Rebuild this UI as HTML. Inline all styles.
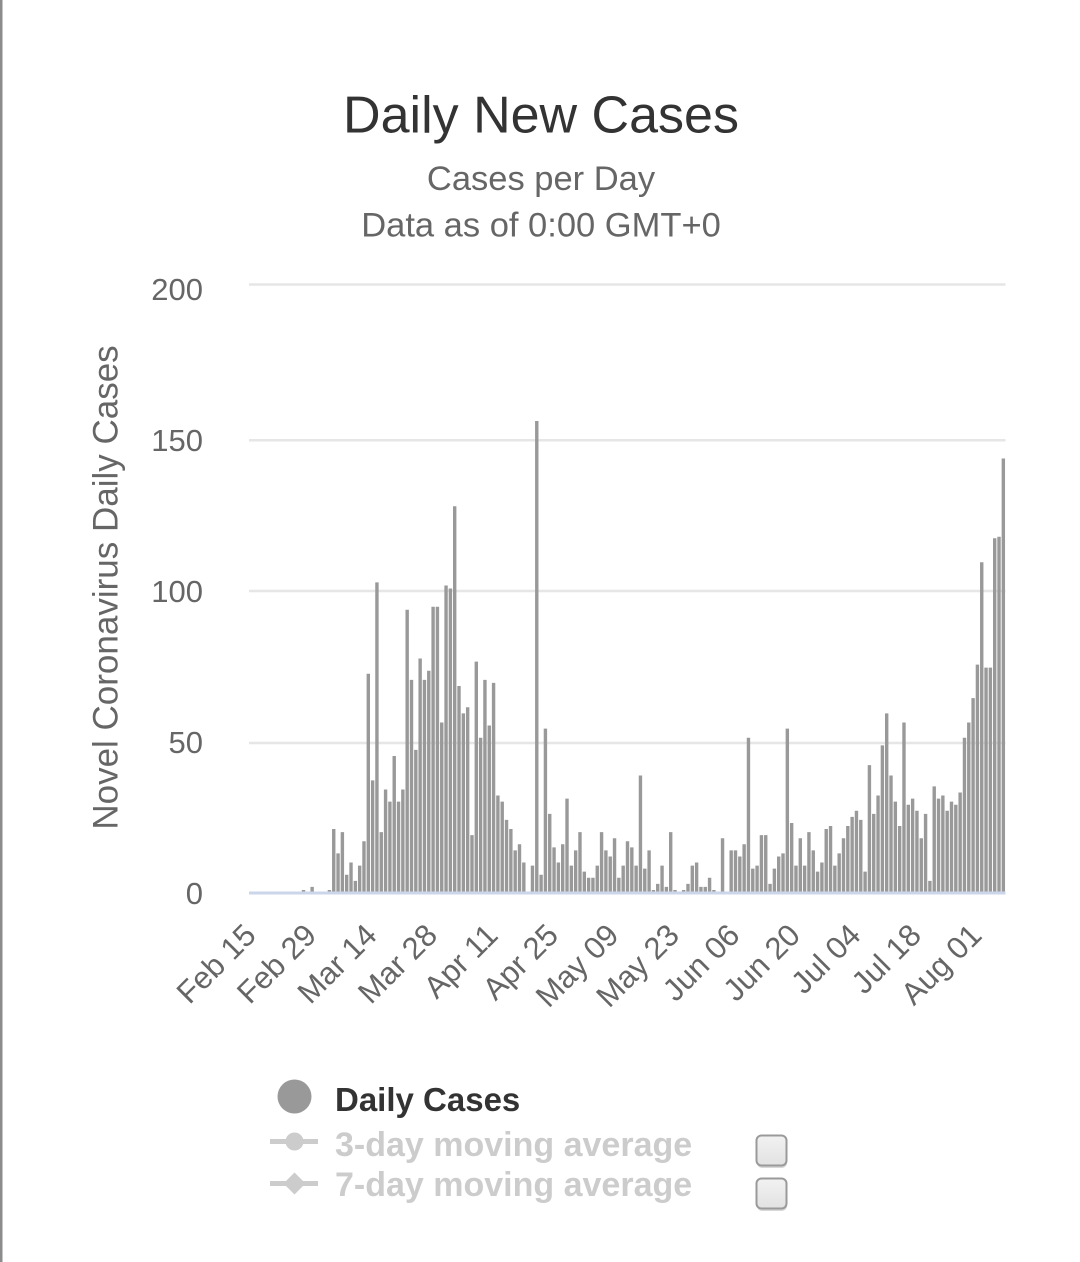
<!DOCTYPE html>
<html>
<head>
<meta charset="utf-8">
<style>
  html, body { margin:0; padding:0; background:#ffffff; }
  svg { display:block; }
  text { font-family: "Liberation Sans", Arial, sans-serif; }
</style>
</head>
<body>
<svg width="1080" height="1262" viewBox="0 0 1080 1262" xmlns="http://www.w3.org/2000/svg">
  <rect x="0" y="0" width="1080" height="1262" fill="#ffffff"/>
  <rect x="0" y="0" width="2.5" height="1262" fill="#8c8c8c"/>

  <text x="541" y="132.7" text-anchor="middle" font-size="52" fill="#333333">Daily New Cases</text>
  <text x="541" y="190" text-anchor="middle" font-size="34.5" fill="#666666">Cases per Day</text>
  <text x="541" y="236.7" text-anchor="middle" font-size="34.5" fill="#666666">Data as of 0:00 GMT+0</text>

  <g stroke="#e6e6e6" stroke-width="2.5">
    <line x1="249" y1="284.5" x2="1005.5" y2="284.5"/>
    <line x1="249" y1="440.2" x2="1005.5" y2="440.2"/>
    <line x1="249" y1="591" x2="1005.5" y2="591"/>
    <line x1="249" y1="743" x2="1005.5" y2="743"/>
  </g>

  <g font-size="31" fill="#666666" text-anchor="end">
    <text x="203" y="300">200</text>
    <text x="203" y="451">150</text>
    <text x="203" y="602">100</text>
    <text x="203" y="753">50</text>
    <text x="203" y="904">0</text>
  </g>

  <text transform="translate(117.5,587.5) rotate(-90)" text-anchor="middle" font-size="35" fill="#666666">Novel Coronavirus Daily Cases</text>

  <g transform="translate(-0.15,0)">
  <path fill="#999999" d="M301.95 889.95h3.4V893h-3.4z M310.59 886.91h3.4V893h-3.4z M327.87 889.95h3.4V893h-3.4z M332.19 829.05h3.4V893h-3.4z M336.51 853.41h3.4V893h-3.4z M340.83 832.1h3.4V893h-3.4z M345.15 874.73h3.4V893h-3.4z M349.47 862.55h3.4V893h-3.4z M353.79 880.82h3.4V893h-3.4z M358.11 865.59h3.4V893h-3.4z M362.43 841.23h3.4V893h-3.4z M366.75 673.76h3.4V893h-3.4z M371.07 780.33h3.4V893h-3.4z M375.39 582.41h3.4V893h-3.4z M379.71 832.1h3.4V893h-3.4z M384.03 789.47h3.4V893h-3.4z M388.35 801.65h3.4V893h-3.4z M392.67 755.97h3.4V893h-3.4z M396.99 801.65h3.4V893h-3.4z M401.31 789.47h3.4V893h-3.4z M405.63 609.81h3.4V893h-3.4z M409.95 679.85h3.4V893h-3.4z M414.27 749.88h3.4V893h-3.4z M418.59 658.53h3.4V893h-3.4z M422.91 679.85h3.4V893h-3.4z M427.23 670.71h3.4V893h-3.4z M431.55 606.77h3.4V893h-3.4z M435.87 606.77h3.4V893h-3.4z M440.19 722.48h3.4V893h-3.4z M444.51 585.45h3.4V893h-3.4z M448.83 588.5h3.4V893h-3.4z M453.15 506.28h3.4V893h-3.4z M457.47 685.94h3.4V893h-3.4z M461.79 713.34h3.4V893h-3.4z M466.11 707.25h3.4V893h-3.4z M470.43 835.14h3.4V893h-3.4z M474.75 661.58h3.4V893h-3.4z M479.07 737.7h3.4V893h-3.4z M483.39 679.85h3.4V893h-3.4z M487.71 725.52h3.4V893h-3.4z M492.03 682.89h3.4V893h-3.4z M496.35 795.56h3.4V893h-3.4z M500.67 801.65h3.4V893h-3.4z M504.99 819.92h3.4V893h-3.4z M509.31 829.05h3.4V893h-3.4z M513.63 850.37h3.4V893h-3.4z M517.95 844.28h3.4V893h-3.4z M522.27 862.55h3.4V893h-3.4z M530.91 865.59h3.4V893h-3.4z M535.23 421.02h3.4V893h-3.4z M539.55 874.73h3.4V893h-3.4z M543.87 728.57h3.4V893h-3.4z M548.19 813.83h3.4V893h-3.4z M552.51 847.32h3.4V893h-3.4z M556.83 862.55h3.4V893h-3.4z M561.15 844.28h3.4V893h-3.4z M565.47 798.6h3.4V893h-3.4z M569.79 865.59h3.4V893h-3.4z M574.11 850.37h3.4V893h-3.4z M578.43 832.1h3.4V893h-3.4z M582.75 871.68h3.4V893h-3.4z M587.07 877.77h3.4V893h-3.4z M591.39 877.77h3.4V893h-3.4z M595.71 865.59h3.4V893h-3.4z M600.03 832.1h3.4V893h-3.4z M604.35 850.37h3.4V893h-3.4z M608.67 856.46h3.4V893h-3.4z M612.99 838.19h3.4V893h-3.4z M617.31 877.77h3.4V893h-3.4z M621.63 865.59h3.4V893h-3.4z M625.95 841.23h3.4V893h-3.4z M630.27 847.32h3.4V893h-3.4z M634.59 865.59h3.4V893h-3.4z M638.91 775.46h3.4V893h-3.4z M643.23 868.64h3.4V893h-3.4z M647.55 850.37h3.4V893h-3.4z M651.87 889.95h3.4V893h-3.4z M656.19 883.86h3.4V893h-3.4z M660.51 865.59h3.4V893h-3.4z M664.83 886.91h3.4V893h-3.4z M669.15 832.1h3.4V893h-3.4z M673.47 889.95h3.4V893h-3.4z M682.11 889.95h3.4V893h-3.4z M686.43 883.86h3.4V893h-3.4z M690.75 865.59h3.4V893h-3.4z M695.07 862.55h3.4V893h-3.4z M699.39 886.91h3.4V893h-3.4z M703.71 886.91h3.4V893h-3.4z M708.03 877.77h3.4V893h-3.4z M712.35 889.95h3.4V893h-3.4z M720.99 838.19h3.4V893h-3.4z M729.63 850.37h3.4V893h-3.4z M733.95 850.37h3.4V893h-3.4z M738.27 856.46h3.4V893h-3.4z M742.59 844.28h3.4V893h-3.4z M746.91 737.7h3.4V893h-3.4z M751.23 868.64h3.4V893h-3.4z M755.55 865.59h3.4V893h-3.4z M759.87 835.14h3.4V893h-3.4z M764.19 835.14h3.4V893h-3.4z M768.51 883.86h3.4V893h-3.4z M772.83 868.64h3.4V893h-3.4z M777.15 856.46h3.4V893h-3.4z M781.47 853.41h3.4V893h-3.4z M785.79 728.57h3.4V893h-3.4z M790.11 822.96h3.4V893h-3.4z M794.43 865.59h3.4V893h-3.4z M798.75 838.19h3.4V893h-3.4z M803.07 865.59h3.4V893h-3.4z M807.39 832.1h3.4V893h-3.4z M811.71 850.37h3.4V893h-3.4z M816.03 871.68h3.4V893h-3.4z M820.35 862.55h3.4V893h-3.4z M824.67 829.05h3.4V893h-3.4z M828.99 826.01h3.4V893h-3.4z M833.31 865.59h3.4V893h-3.4z M837.63 853.41h3.4V893h-3.4z M841.95 838.19h3.4V893h-3.4z M846.27 826.01h3.4V893h-3.4z M850.59 816.87h3.4V893h-3.4z M854.91 810.78h3.4V893h-3.4z M859.23 819.92h3.4V893h-3.4z M863.55 871.68h3.4V893h-3.4z M867.87 765.11h3.4V893h-3.4z M872.19 813.83h3.4V893h-3.4z M876.51 795.56h3.4V893h-3.4z M880.83 745.32h3.4V893h-3.4z M885.15 713.34h3.4V893h-3.4z M889.47 775.46h3.4V893h-3.4z M893.79 801.65h3.4V893h-3.4z M898.11 826.01h3.4V893h-3.4z M902.43 722.48h3.4V893h-3.4z M906.75 804.69h3.4V893h-3.4z M911.07 798.6h3.4V893h-3.4z M915.39 810.78h3.4V893h-3.4z M919.71 838.19h3.4V893h-3.4z M924.03 813.83h3.4V893h-3.4z M928.35 880.82h3.4V893h-3.4z M932.67 786.42h3.4V893h-3.4z M936.99 798.6h3.4V893h-3.4z M941.31 795.56h3.4V893h-3.4z M945.63 810.78h3.4V893h-3.4z M949.95 801.65h3.4V893h-3.4z M954.27 804.69h3.4V893h-3.4z M958.59 792.51h3.4V893h-3.4z M962.91 737.7h3.4V893h-3.4z M967.23 722.48h3.4V893h-3.4z M971.55 698.12h3.4V893h-3.4z M975.87 664.62h3.4V893h-3.4z M980.19 562.31h3.4V893h-3.4z M984.51 667.67h3.4V893h-3.4z M988.83 667.67h3.4V893h-3.4z M993.15 538.26h3.4V893h-3.4z M997.47 536.73h3.4V893h-3.4z M1001.79 458.48h3.4V893h-3.4z"/>
  </g>

  <line x1="249" y1="893" x2="1005.5" y2="893" stroke="#ccd6eb" stroke-width="3"/>

  <g font-size="31" fill="#666666" text-anchor="end">
    <text transform="translate(257.7,937) rotate(-45)">Feb 15</text>
    <text transform="translate(318.1,937) rotate(-45)">Feb 29</text>
    <text transform="translate(378.6,937) rotate(-45)">Mar 14</text>
    <text transform="translate(439.1,937) rotate(-45)">Mar 28</text>
    <text transform="translate(499.6,937) rotate(-45)">Apr 11</text>
    <text transform="translate(560.1,937) rotate(-45)">Apr 25</text>
    <text transform="translate(620.5,937) rotate(-45)">May 09</text>
    <text transform="translate(681.0,937) rotate(-45)">May 23</text>
    <text transform="translate(741.5,937) rotate(-45)">Jun 06</text>
    <text transform="translate(802.0,937) rotate(-45)">Jun 20</text>
    <text transform="translate(862.5,937) rotate(-45)">Jul 04</text>
    <text transform="translate(922.9,937) rotate(-45)">Jul 18</text>
    <text transform="translate(983.4,937) rotate(-45)">Aug 01</text>
  </g>

  <circle cx="294.5" cy="1096.5" r="17" fill="#999999"/>
  <text x="335" y="1111" font-size="33" font-weight="bold" fill="#333333">Daily Cases</text>

  <line x1="270" y1="1141.5" x2="318" y2="1141.5" stroke="#cccccc" stroke-width="5"/>
  <circle cx="294.5" cy="1141.5" r="9" fill="#cccccc"/>
  <text x="335" y="1156" font-size="34" font-weight="bold" fill="#cccccc">3-day moving average</text>

  <line x1="270" y1="1183.5" x2="318" y2="1183.5" stroke="#cccccc" stroke-width="5"/>
  <path d="M294.5 1172.5 L305.5 1183.5 L294.5 1194.5 L283.5 1183.5 Z" fill="#cccccc"/>
  <text x="335" y="1196" font-size="34" font-weight="bold" fill="#cccccc">7-day moving average</text>

  <defs>
    <linearGradient id="cb" x1="0" y1="0" x2="0" y2="1">
      <stop offset="0" stop-color="#f2f2f2"/>
      <stop offset="1" stop-color="#e2e2e2"/>
    </linearGradient>
  </defs>
  <rect x="757" y="1138" width="30" height="30" rx="5" fill="#d8d8d8"/>
  <rect x="756.5" y="1135.5" width="30" height="30" rx="5" fill="url(#cb)" stroke="#9a9a9a" stroke-width="2"/>
  <rect x="757" y="1181" width="30" height="30" rx="5" fill="#d8d8d8"/>
  <rect x="756.5" y="1178.5" width="30" height="30" rx="5" fill="url(#cb)" stroke="#9a9a9a" stroke-width="2"/>
</svg>
</body>
</html>
